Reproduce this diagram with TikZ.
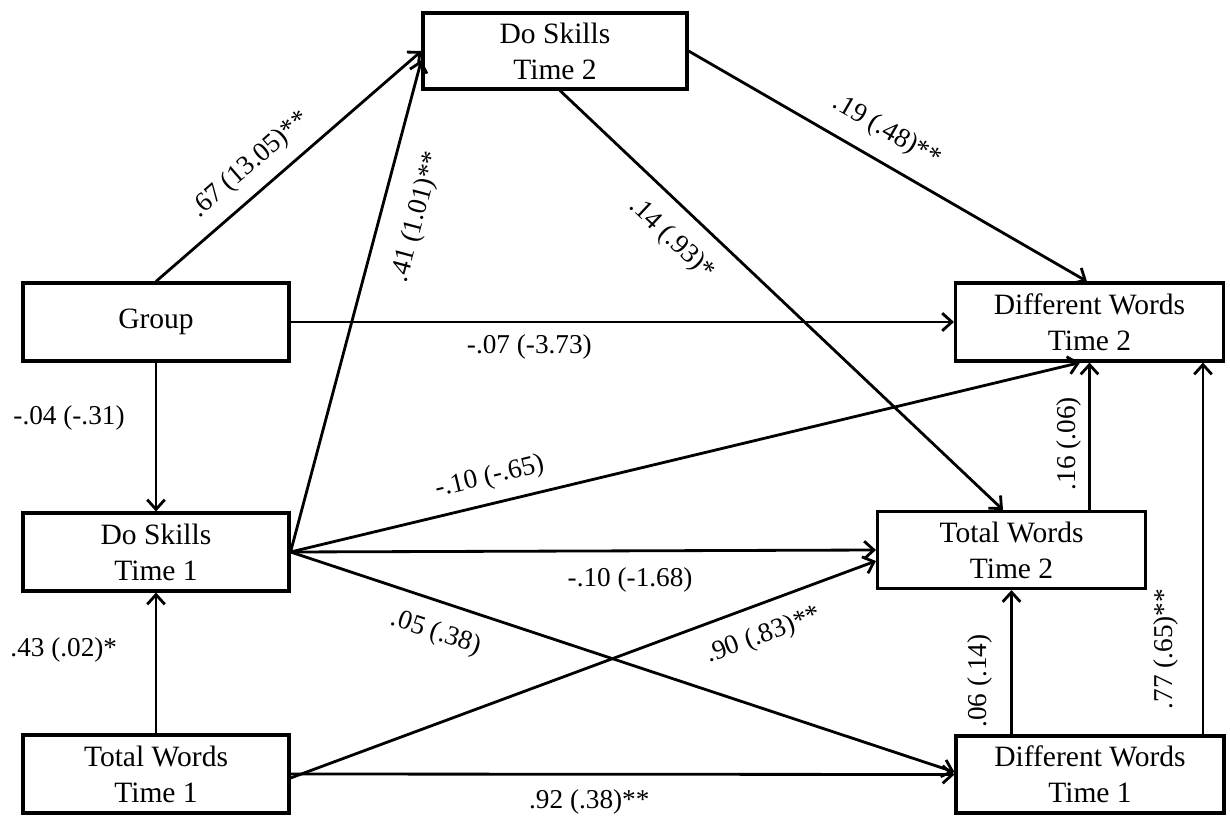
\documentclass[tikz,border=0pt]{standalone}
\usepackage{fontspec}
\setmainfont{Liberation Serif}
\usetikzlibrary{arrows.meta,calc}
\begin{document}
\begin{tikzpicture}[x=0.02cm,y=-0.02cm,
 box/.style={draw, line width=1.8pt, rectangle, minimum width=5.32cm, minimum height=1.56cm, align=center, font=\fontsize{16.8}{20.4}\selectfont, inner sep=0pt},
 wbox/.style={box, minimum width=5.36cm},
 arr/.style={line width=1.6pt, -{Straight Barb[length=5.5pt,width=10pt]}},
 lab/.style={font=\fontsize{15.5}{18}\selectfont, inner sep=0pt},
]
\useasboundingbox (0,0) rectangle (1230,817);
\node[box, minimum width=5.28cm, minimum height=1.52cm] (ds2) at (555,51) {Do Skills\\Time 2};
\node[box] (grp) at (156,322) {Group};
\node[wbox] (dw2) at (1089.5,322) {Different Words\\Time 2};
\node[box] (ds1) at (156,552) {Do Skills\\Time 1};
\node[wbox, minimum height=1.54cm] (tw2) at (1011.5,550) {Total Words\\Time 2};
\node[box] (tw1) at (156,774) {Total Words\\Time 1};
\node[wbox, minimum height=1.54cm] (dw1) at (1090,774.5) {Different Words\\Time 1};

\draw[arr] (grp.north) -- node[lab,sloped,above=7pt,pos=0.42]{.67 (13.05)**} (ds2.west);
\draw[arr] (ds1.east) -- node[lab,sloped,below=13pt,pos=0.70]{.41 (1.01)**} ([yshift=-0.18cm]ds2.west);
\draw[arr] (ds2.east) -- node[lab,sloped,above=9pt,pos=0.46]{.19 (.48)**} ([xshift=-0.05cm]dw2.north);
\draw[arr] ([xshift=0.1cm]ds2.south) -- node[lab,sloped,below=10pt,pos=0.30]{.14 (.93)*} ([xshift=-0.17cm]tw2.north);
\draw[arr] (grp.east) -- node[lab,below=6.5pt,pos=0.36]{-.07 (-3.73)} (dw2.west);
\draw[arr] (grp.south) -- node[lab,left=0.6cm,pos=0.375]{-.04 (-.31)} (ds1.north);
\draw[arr] (ds1.east) -- node[lab,sloped,above=7pt,pos=0.26]{-.10 (-.65)} ([xshift=-0.19cm]dw2.south);
\draw[arr] (ds1.east) -- node[lab,below=9pt,pos=0.58]{-.10 (-1.68)} (tw2.west);
\draw[arr] (ds1.east) -- node[lab,sloped,below=10pt,pos=0.234]{.05 (.38)} ([yshift=0.05cm]dw1.west);
\draw[arr] ([yshift=-0.08cm]tw1.east) -- node[lab,sloped,below=10pt,pos=0.79]{.90 (.83)**} ([yshift=-0.22cm]tw2.west);
\draw[arr] (tw1.east) -- node[lab,below=8pt,pos=0.45]{.92 (.38)**} (dw1.west);
\draw[arr] (tw1.north) -- node[lab,left=0.75cm,pos=0.59]{.43 (.02)*} (ds1.south);
\draw[arr] (tw2.south |- dw1.north) -- node[lab,sloped,above=10pt,pos=0.37]{.06 (.14)} (tw2.south);
\draw[arr] (dw2.south |- tw2.north) -- node[lab,sloped,above=4pt,pos=0.45]{.16 (.06)} (dw2.south);
\draw[arr] ([xshift=2.26cm]dw1.north) -- node[lab,sloped,above=13pt,pos=0.23]{.77 (.65)**} ([xshift=2.26cm]dw1.north |- dw2.south);
\end{tikzpicture}
\end{document}
